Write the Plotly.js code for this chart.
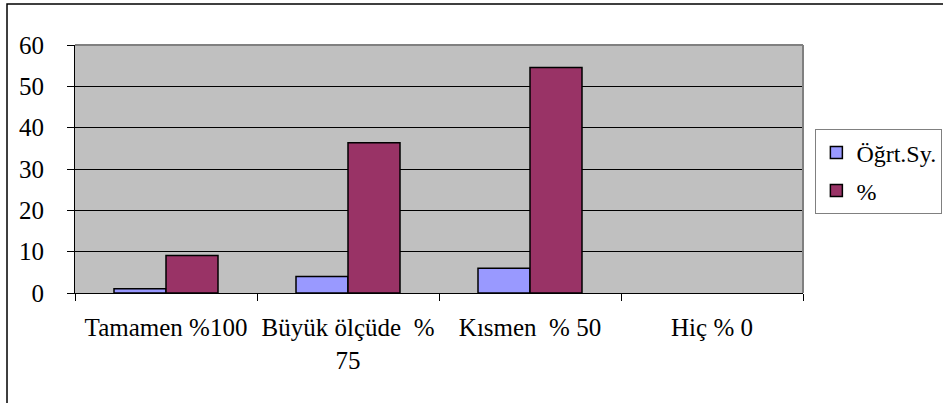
<!DOCTYPE html>
<html>
<head>
<meta charset="utf-8">
<script src="https://cdn.plot.ly/plotly-3.0.1.min.js"></script>
<style>html,body{margin:0;padding:0;background:#fff;}#chart{width:943px;height:403px;}</style>
</head>
<body>
<div id="chart"></div>
<script>
const categories = ["Tamamen %100", "Büyük ölçüde \u00a0%<br>75", "Kısmen \u00a0% 50", "Hiç % 0"];
const ogrtSy = [1, 4, 6, 0];
const yuzde = [9.09, 36.36, 54.55, 0];
const yTicks = [0, 10, 20, 30, 40, 50, 60];

const font = {family: "'Liberation Serif', 'Times New Roman', serif", size: 25, color: "#000"};

function outline(vals) { return vals.map(v => v === 0 ? 0 : 1.5); }

const traces = [
  {type: "bar", name: "Öğrt.Sy.", x: categories, y: ogrtSy, legendgroup: "a",
   marker: {color: "#9999FF", line: {color: "#000", width: outline(ogrtSy)}}},
  {type: "bar", name: "%", x: categories, y: yuzde, legendgroup: "b",
   marker: {color: "#993366", line: {color: "#000", width: outline(yuzde)}}}
];

const layout = {
  width: 943, height: 403,
  margin: {l: 75, r: 140, t: 45, b: 110, autoexpand: false},
  paper_bgcolor: "#fff",
  plot_bgcolor: "#C0C0C0",
  font: font,
  barmode: "group",
  bargap: 0.4286,
  bargroupgap: 0,
  showlegend: true,
  legend: {
    x: 1.017, y: 0.66, xanchor: "left", yanchor: "top",
    bgcolor: "#fff", bordercolor: "#808080", borderwidth: 1,
    font: {family: font.family, size: 24, color: "#000"},
    traceorder: "grouped", tracegroupgap: 4,
    itemwidth: 30
  },
  xaxis: {
    type: "category",
    tickson: "boundaries",
    ticks: "outside", ticklen: 7, tickcolor: "#000", tickwidth: 1,
    showline: true, linecolor: "#000", linewidth: 1,
    showgrid: false, zeroline: false,
    tickfont: font,
    ticklabelstandoff: 12,
    automargin: false
  },
  yaxis: {
    range: [0, 60],
    tickvals: yTicks,
    ticktext: yTicks.map(String),
    ticks: "outside", ticklen: 7, tickcolor: "#000", tickwidth: 1,
    showline: true, linecolor: "#000", linewidth: 1,
    showgrid: true, gridcolor: "#000", gridwidth: 1,
    zeroline: false,
    tickfont: font,
    ticklabelstandoff: 18,
    automargin: false
  },
  shapes: [
    {type: "line", xref: "paper", yref: "paper", x0: 0, x1: 1, y0: 1, y1: 1, line: {color: "#808080", width: 2}},
    {type: "line", xref: "paper", yref: "paper", x0: 1, x1: 1, y0: 0, y1: 1, line: {color: "#808080", width: 2}},
    {type: "rect", xref: "paper", yref: "paper", x0: -0.0934, x1: 1.25, y0: -0.6, y1: 1.165, line: {color: "#000", width: 1.5}, fillcolor: "rgba(0,0,0,0)"}
  ]
};

Plotly.newPlot("chart", traces, layout, {displayModeBar: false, staticPlot: true});
</script>
</body>
</html>
